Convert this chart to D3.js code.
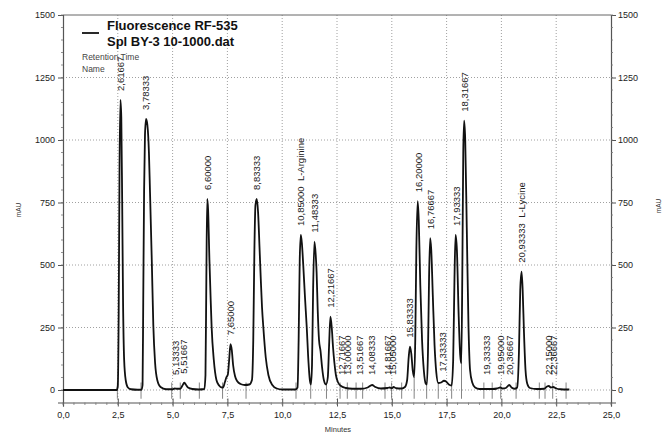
<!DOCTYPE html>
<html>
<head>
<meta charset="utf-8">
<script src="https://cdn.jsdelivr.net/npm/d3@7"></script>
<style>
  body { margin: 0; background: #fff; }
  text { font-family: "Liberation Sans", Arial, sans-serif; }
</style>
</head>
<body>
<div id="chart"></div>
<script>
// chromatogram trace (minutes, mAU)
var traceTime = [0, 1.0, 2.0, 2.45, 2.5, 2.54, 2.58, 2.62, 2.66, 2.7, 2.74, 2.79, 2.86, 2.96, 3.1, 3.4,
  3.58, 3.63, 3.66, 3.70, 3.74, 3.79, 3.85, 3.92, 3.97, 4.05, 4.12, 4.2, 4.3, 4.45, 4.7,
  5.0, 5.1, 5.18, 5.35, 5.45, 5.53, 5.6, 5.7, 5.9, 6.2,
  6.45, 6.5, 6.54, 6.58, 6.62, 6.68, 6.73, 6.78, 6.88, 7.0, 7.12, 7.25,
  7.3, 7.38, 7.45, 7.52, 7.58, 7.64, 7.7, 7.76, 7.85, 7.95, 8.1, 8.3,
  8.5, 8.62, 8.68, 8.73, 8.78, 8.84, 8.9, 8.97, 9.02, 9.08, 9.14, 9.25, 9.37, 9.55, 9.75, 10.0,
  10.6, 10.7, 10.75, 10.8, 10.85, 10.9, 10.96, 11.04, 11.12, 11.2, 11.26,
  11.31, 11.36, 11.41, 11.47, 11.53, 11.57, 11.62, 11.68, 11.75, 11.82, 11.9,
  12.0, 12.08, 12.14, 12.2, 12.26, 12.32, 12.38, 12.45, 12.55, 12.7, 12.9, 13.2, 13.6,
  13.9, 14.1, 14.25, 14.5, 14.8, 14.9, 15.0, 15.08, 15.2, 15.45,
  15.6, 15.7, 15.77, 15.83, 15.89, 15.96, 16.02,
  16.07, 16.12, 16.18, 16.23, 16.3, 16.38, 16.46, 16.55,
  16.6, 16.65, 16.7, 16.75, 16.8, 16.87, 16.95, 17.03, 17.12, 17.25, 17.38, 17.48, 17.6,
  17.73, 17.8, 17.86, 17.91, 17.97, 18.05, 18.12,
  18.17, 18.22, 18.26, 18.3, 18.35, 18.42, 18.5, 18.57, 18.67, 18.8, 19.0,
  19.3, 19.6, 19.8, 19.95, 20.05, 20.2, 20.36, 20.46, 20.6,
  20.72, 20.8, 20.86, 20.92, 20.97, 21.03, 21.1, 21.18, 21.3, 21.6,
  21.95, 22.08, 22.16, 22.26, 22.36, 22.5, 22.7, 22.95, 23.1];
var traceMAU = [0, 0, 0, 0, 15, 300, 900, 1160, 1090, 750, 350, 120, 40, 10, 3, 1,
  1, 20, 350, 800, 1020, 1084, 1060, 950, 790, 520, 260, 110, 40, 12, 3,
  3, 6, 5, 5, 18, 29, 22, 10, 4, 2,
  4, 60, 450, 764, 720, 520, 380, 253, 120, 40, 18, 10,
  10, 30, 50, 62, 120, 183, 160, 100, 55, 35, 24, 20,
  22, 40, 200, 550, 740, 764, 710, 560, 450, 330, 250, 130, 60, 20, 6, 2,
  2, 10, 200, 520, 620, 585, 500, 370, 250, 110, 40,
  22, 100, 400, 593, 540, 470, 320, 200, 155, 90, 40,
  22, 50, 180, 293, 250, 170, 110, 60, 30, 15, 8, 5, 5,
  10, 20, 12, 6, 8, 10, 7, 12, 7, 6,
  12, 40, 130, 173, 145, 75, 52,
  200, 560, 755, 680, 420, 200, 80, 25,
  22, 150, 450, 607, 560, 380, 180, 70, 28, 30, 37, 34, 22,
  18, 120, 450, 620, 560, 300, 140,
  107, 500, 950, 1077, 1000, 650, 250, 80, 30, 10, 4,
  4, 4, 6, 10, 6, 8, 20, 10, 5,
  10, 150, 400, 473, 400, 230, 80, 25, 8, 4,
  5, 14, 16, 10, 12, 6, 3, 2, 2];

// identified peaks
var peakTimes = [2.61667, 3.78333, 5.13333, 5.51667, 6.6, 7.65, 8.83333, 10.85, 11.48333, 12.21667,
  12.71667, 13.0, 13.51667, 14.08333, 14.81667, 15.05, 15.83333, 16.2, 16.76667, 17.33333,
  17.93333, 18.31667, 19.33333, 19.95, 20.36667, 20.93333, 22.15, 22.36667];
var peakNames = {10.85: "L-Arginine", 20.93333: "L-Lycine"};

// integration boundary marks
var markerTimes = [2.48, 3.56, 4.96, 5.35, 6.22, 7.28, 8.35, 10.63, 11.3, 12.02, 12.64, 12.97,
  13.37, 13.67, 14.69, 14.99, 15.45, 16.02, 16.59, 17.12, 17.73, 18.18, 19.2, 19.58, 19.97,
  20.67, 21.73, 21.99, 22.34, 22.95];

var xTicks = [0, 2.5, 5, 7.5, 10, 12.5, 15, 17.5, 20, 22.5, 25];
var yTicks = [0, 250, 500, 750, 1000, 1250, 1500];

var W = 670, H = 436;
var margin = {top: 15, right: 59, bottom: 33.5, left: 63};

var svg = d3.select("#chart").append("svg")
  .attr("width", W).attr("height", H);

var x = d3.scaleLinear().domain([0, 25]).range([margin.left, W - margin.right]);
var y = d3.scaleLinear().domain([-50, 1500]).range([H - margin.bottom, margin.top]);

var fmt = function(v, n) { return v.toFixed(n).replace(".", ","); };

// dotted grid
svg.append("g").selectAll("line").data(xTicks.slice(1, -1)).enter().append("line")
  .attr("x1", d => x(d)).attr("x2", d => x(d))
  .attr("y1", y(1500)).attr("y2", y(-50))
  .attr("stroke", "#888").attr("stroke-width", 0.8).attr("stroke-dasharray", "1,2");
svg.append("g").selectAll("line").data(yTicks.slice(0, -1)).enter().append("line")
  .attr("x1", x(0)).attr("x2", x(25))
  .attr("y1", d => y(d)).attr("y2", d => y(d))
  .attr("stroke", "#888").attr("stroke-width", 0.8).attr("stroke-dasharray", "1,2");

// frame line on top
svg.append("line").attr("x1", x(0)).attr("x2", x(25))
  .attr("y1", y(1500)).attr("y2", y(1500)).attr("stroke", "#666").attr("stroke-width", 1);

// axes
var yMinor = d3.range(0, 1501, 50);
var xMinor = d3.range(0, 25.01, 0.5);

var gl = svg.append("g").attr("transform", "translate(" + x(0) + ",0)")
  .call(d3.axisLeft(y).tickValues(yTicks).tickSize(5).tickPadding(3).tickFormat(d3.format("d")));
var gr = svg.append("g").attr("transform", "translate(" + x(25) + ",0)")
  .call(d3.axisRight(y).tickValues(yTicks).tickSize(5).tickPadding(2).tickFormat(d3.format("d")));
var gb = svg.append("g").attr("transform", "translate(0," + y(-50) + ")")
  .call(d3.axisBottom(x).tickValues(xTicks).tickSize(4).tickPadding(5).tickFormat(d => fmt(d, 1)));

[gl, gr, gb].forEach(function(g) {
  g.select(".domain").attr("stroke", "#555").attr("stroke-width", 1.2);
  g.selectAll(".tick line").attr("stroke", "#555");
  g.selectAll("text").attr("font-size", 9).attr("fill", "#222")
    .attr("font-family", "'Liberation Sans', Arial, sans-serif");
});
gb.selectAll(".tick line").attr("y1", -4);

// minor ticks
svg.append("g").selectAll("line").data(yMinor).enter().append("line")
  .attr("x1", x(0) - 2).attr("x2", x(0)).attr("y1", d => y(d)).attr("y2", d => y(d))
  .attr("stroke", "#777").attr("stroke-width", 0.8);
svg.append("g").selectAll("line").data(yMinor).enter().append("line")
  .attr("x1", x(25)).attr("x2", x(25) + 2).attr("y1", d => y(d)).attr("y2", d => y(d))
  .attr("stroke", "#777").attr("stroke-width", 0.8);
svg.append("g").selectAll("line").data(xMinor).enter().append("line")
  .attr("x1", d => x(d)).attr("x2", d => x(d)).attr("y1", y(-50)).attr("y2", y(-50) + 2.5)
  .attr("stroke", "#777").attr("stroke-width", 0.8);

// axis titles
svg.append("text").attr("transform", "translate(21," + 210 + ") rotate(-90)")
  .attr("text-anchor", "middle").attr("font-size", 6.5).attr("fill", "#333").text("mAU");
svg.append("text").attr("transform", "translate(661," + 206 + ") rotate(-90)")
  .attr("text-anchor", "middle").attr("font-size", 6.5).attr("fill", "#333").text("mAU");
svg.append("text").attr("x", 338).attr("y", 432)
  .attr("text-anchor", "middle").attr("font-size", 7.5).attr("fill", "#333").text("Minutes");

// trace
var trace = traceTime.map((t, i) => [t, traceMAU[i]]);
var valueAt = function(t) {
  var i = d3.bisectLeft(traceTime, t);
  if (i <= 0) return traceMAU[0];
  if (i >= traceTime.length) return traceMAU[traceMAU.length - 1];
  var t0 = traceTime[i - 1], t1 = traceTime[i];
  return traceMAU[i - 1] + (traceMAU[i] - traceMAU[i - 1]) * (t - t0) / (t1 - t0);
};

// integration marks
svg.append("g").selectAll("line").data(markerTimes).enter().append("line")
  .attr("x1", d => x(d)).attr("x2", d => x(d))
  .attr("y1", d => y(Math.max(30, valueAt(d))))
  .attr("y2", y(-35))
  .attr("stroke", "#666").attr("stroke-width", 0.8);

svg.append("path").datum(trace)
  .attr("fill", "none").attr("stroke", "#111").attr("stroke-width", 1.8)
  .attr("stroke-linejoin", "round")
  .attr("d", d3.line().x(d => x(d[0])).y(d => y(d[1])).curve(d3.curveMonotoneX));

// peak labels
var labelSize = 9.5;
svg.append("g").selectAll("text").data(peakTimes).enter().append("text")
  .attr("transform", function(d) {
    var near = trace.filter(p => Math.abs(p[0] - d) < 0.08);
    var h = d3.max(near, p => p[1]) || 0;
    var yb = Math.min(y(h) - 9, y(0) - 15);
    return "translate(" + (x(d) + labelSize * 0.36) + "," + yb + ") rotate(-90)";
  })
  .attr("font-size", labelSize).attr("fill", "#222")
  .text(d => fmt(d, 5) + (peakNames[d] ? "\u00a0\u00a0" + peakNames[d] : ""));

// legend
svg.append("line").attr("x1", 82).attr("x2", 99).attr("y1", 33).attr("y2", 33)
  .attr("stroke", "#111").attr("stroke-width", 1.8);
svg.append("text").attr("x", 107).attr("y", 30).attr("font-size", 13).attr("font-weight", "bold")
  .attr("fill", "#111").text("Fluorescence RF-535");
svg.append("text").attr("x", 107).attr("y", 46).attr("font-size", 13).attr("font-weight", "bold")
  .attr("fill", "#111").text("Spl BY-3 10-1000.dat");
svg.append("text").attr("x", 82).attr("y", 60).attr("font-size", 8.5).attr("fill", "#444")
  .text("Retention Time");
svg.append("text").attr("x", 82).attr("y", 72).attr("font-size", 8.5).attr("fill", "#444")
  .text("Name");
</script>
</body>
</html>
